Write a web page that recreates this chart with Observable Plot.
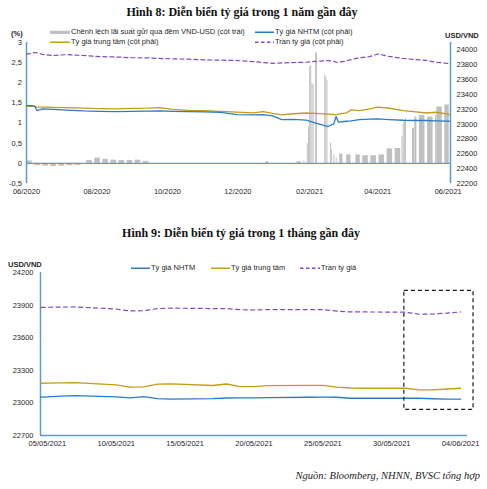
<!DOCTYPE html>
<html><head><meta charset="utf-8">
<script src="https://cdn.jsdelivr.net/npm/d3@7"></script>
<script src="https://cdn.jsdelivr.net/npm/@observablehq/plot@0.6"></script>
<style>
body{margin:0;background:#fff;}
#root{position:relative;width:487px;height:489px;overflow:hidden;font-family:"Liberation Sans",Arial,sans-serif;color:#262626;background:#fff;}
.abs{position:absolute;white-space:nowrap;}
.title{font-family:"Liberation Serif","Times New Roman",serif;font-weight:bold;font-size:12px;color:#111;transform:translate(-50%,-50%);}
.lg{font-size:7.5px;line-height:1;transform:translateY(-50%);display:flex;align-items:center;}
.lg svg{display:block;margin-right:1px;}
.unit{font-size:7.5px;font-weight:bold;transform:translateY(-50%);}
.src{font-family:"Liberation Serif","Times New Roman",serif;font-style:italic;font-size:10.5px;color:#222;transform:translate(-100%,-50%);}
</style></head>
<body><div id="root"></div>
<script>
// ---------- Chart 8 data (1 year) ----------
const lineDates1 = ["2020-06-01","2020-06-05","2020-06-08","2020-06-10","2020-06-15","2020-06-24","2020-07-06","2020-07-20","2020-08-03","2020-08-17","2020-08-31","2020-09-14","2020-09-24","2020-10-05","2020-10-19","2020-11-02","2020-11-16","2020-11-30","2020-12-14","2020-12-23","2020-12-31","2021-01-08","2021-01-18","2021-01-29","2021-02-05","2021-02-17","2021-02-22","2021-02-24","2021-02-26","2021-03-05","2021-03-09","2021-03-16","2021-03-25","2021-04-01","2021-04-11","2021-04-23","2021-05-04","2021-05-13","2021-05-21","2021-05-31","2021-06-02"];
const nhtm1 = [23250,23250,23245,23183,23205,23200,23190,23178,23172,23168,23172,23175,23178,23172,23168,23165,23158,23128,23125,23128,23110,23062,23065,23055,23020,22968,23004,23102,23026,23039,23045,23062,23068,23071,23062,23052,23049,23049,23045,23040,23039];
const central1 = [23240,23238,23235,23228,23230,23225,23222,23215,23210,23205,23212,23215,23222,23200,23185,23180,23172,23162,23152,23168,23145,23125,23140,23150,23145,23135,23130,23129,23135,23152,23193,23183,23206,23228,23214,23183,23165,23150,23160,23139,23125];
const ceiling1 = [23947,23950,23965,23960,23940,23924,23937,23925,23910,23905,23895,23893,23885,23880,23875,23866,23862,23857,23843,23830,23820,23825,23830,23834,23845,23857,23845,23834,23834,23850,23870,23893,23910,23945,23912,23885,23870,23860,23834,23820,23815];

// overnight interest-rate spread VND-USD (%): start date, length in days, value
const barStart = ["2020-06-01","2020-06-08","2020-06-15","2020-06-22","2020-06-29","2020-07-06","2020-07-13","2020-07-23","2020-07-30","2020-08-06","2020-08-13","2020-08-20","2020-08-27","2020-09-03","2020-09-10","2020-12-25","2021-01-21","2021-01-27","2021-01-30","2021-01-31","2021-02-01","2021-02-02","2021-02-03","2021-02-04","2021-02-06","2021-02-07","2021-02-14","2021-02-15","2021-02-16","2021-02-19","2021-02-20","2021-02-22","2021-02-24","2021-02-27","2021-03-05","2021-03-13","2021-03-19","2021-03-26","2021-04-02","2021-04-09","2021-04-16","2021-04-22","2021-04-23","2021-04-24","2021-04-25","2021-05-01","2021-05-03","2021-05-07","2021-05-14","2021-05-21","2021-05-22","2021-05-29"];
const barDays = [5,5,5,5,5,5,5,5,5,5,5,5,5,5,5,3,4,1,1,1,1,1,1,1,1,1,1,1,1,1,1,1,1,3,4,4,5,5,5,5,5,1,1,1,1,2,2,5,5,1,5,4];
const barValue = [0.06,-0.06,-0.07,-0.08,-0.07,-0.06,-0.05,0.07,0.13,0.10,0.08,0.07,0.07,0.08,0.05,0.04,0.04,0.06,0.50,0.91,2.39,2.43,1.98,1.95,2.76,2.72,2.19,2.15,2.06,0.50,0.33,0.21,0.13,0.23,0.21,0.21,0.19,0.19,0.21,0.36,0.37,0.66,1.00,1.06,1.11,0.87,1.15,1.19,1.15,1.19,1.40,1.45];

const xTicks1 = ["2020-06-01","2020-08-01","2020-10-01","2020-12-01","2021-02-01","2021-04-01","2021-06-01"];
const xDomain1 = ["2020-06-01","2021-06-03"];
const leftTicks = [-0.5,0,0.5,1,1.5,2,2.5,3];
const leftDomain = [-0.5,3];
const rightTicks = [22200,22400,22600,22800,23000,23200,23400,23600,23800,24000];
const rightDomain = [22200,24100];

// ---------- Chart 9 data (1 month) ----------
const dates2 = ["2021-05-04","2021-05-05","2021-05-06","2021-05-07","2021-05-10","2021-05-11","2021-05-12","2021-05-13","2021-05-14","2021-05-17","2021-05-18","2021-05-19","2021-05-20","2021-05-21","2021-05-24","2021-05-25","2021-05-26","2021-05-27","2021-05-28","2021-05-31","2021-06-01","2021-06-02","2021-06-03","2021-06-04"];
const nhtm2 = [23050,23055,23062,23067,23055,23046,23058,23040,23034,23040,23045,23046,23046,23048,23052,23053,23052,23043,23043,23043,23043,23038,23034,23034];
const central2 = [23180,23182,23185,23186,23166,23145,23148,23172,23175,23160,23174,23150,23150,23159,23162,23162,23145,23137,23135,23135,23120,23120,23128,23135];
const ceiling2 = [23878,23880,23882,23883,23864,23846,23848,23868,23872,23868,23868,23858,23855,23859,23859,23859,23845,23837,23837,23835,23816,23818,23826,23837];
const xTicks2 = ["2021-05-05","2021-05-10","2021-05-15","2021-05-20","2021-05-25","2021-05-30","2021-06-04"];
const xDomain2 = ["2021-05-04T12:00:00Z","2021-06-04T12:00:00Z"];
const yTicks2 = [22700,23000,23300,23600,23900,24200];
const yDomain2 = [22700,24200];
const boxX = ["2021-05-30T22:00:00Z","2021-06-04T22:30:00Z"];
const boxY = [22935,24030];

// ---------- colours ----------
const C_NHTM = "#2a7cc7", C_CENTRAL = "#c39b1e", C_CEIL = "#8549bd", C_BAR = "#c0c0c0", C_AXIS = "#5b9bd5";

const root = document.getElementById("root");
const D = s => new Date(s.length > 10 ? s : s + "T00:00:00Z");
const toLeft = v => leftDomain[0] + (v - rightDomain[0]) / (rightDomain[1] - rightDomain[0]) * (leftDomain[1] - leftDomain[0]);
const toRight = u => rightDomain[0] + (u - leftDomain[0]) / (leftDomain[1] - leftDomain[0]) * (rightDomain[1] - rightDomain[0]);

function addText(cls, x, y, text) {
  const el = document.createElement("div");
  el.className = "abs " + cls;
  el.style.left = x + "px"; el.style.top = y + "px";
  el.textContent = text;
  root.appendChild(el);
  return el;
}
function addLegend(x, y, kind, color, text, w) {
  const el = document.createElement("div");
  el.className = "abs lg";
  el.style.left = x + "px"; el.style.top = y + "px";
  let sw;
  if (kind === "bar") sw = `<svg width="${w}" height="6"><rect x="0" y="1.5" width="${w}" height="3.2" fill="${color}"/></svg>`;
  else if (kind === "dash") sw = `<svg width="${w}" height="6"><line x1="0" y1="3" x2="${w}" y2="3" stroke="${color}" stroke-width="1.3" stroke-dasharray="3.5,2.5"/></svg>`;
  else sw = `<svg width="${w}" height="6"><line x1="0" y1="3" x2="${w}" y2="3" stroke="${color}" stroke-width="1.4"/></svg>`;
  el.innerHTML = sw + `<span></span>`;
  el.querySelector("span").textContent = text;
  root.appendChild(el);
}

const style = {fontFamily: "'Liberation Sans', Arial, sans-serif", fontSize: "7.5px", color: "#262626", background: "transparent", overflow: "visible"};

// ---------- Chart 8 ----------
const lines1 = lineDates1.map((s, i) => ({date: D(s), nhtm: toLeft(nhtm1[i]), central: toLeft(central1[i]), ceiling: toLeft(ceiling1[i])}));
const bars1 = barStart.map((s, i) => ({x1: D(s), x2: d3.utcDay.offset(D(s), barDays[i]), y1: 0, y2: barValue[i]}));
const xd1 = xDomain1.map(D);

const chart1 = Plot.plot({
  width: 487, height: 205,
  marginLeft: 26, marginRight: 37, marginTop: 42, marginBottom: 22,
  style,
  x: {type: "utc", domain: xd1},
  y: {domain: leftDomain},
  marks: [
    Plot.rect(bars1, {x1: "x1", x2: "x2", y1: "y1", y2: "y2", fill: C_BAR, insetLeft: 0.1, insetRight: 0.1}),
    Plot.ruleY([0], {stroke: C_AXIS, strokeWidth: 1.2}),
    Plot.ruleX(xd1, {stroke: C_AXIS, strokeWidth: 1.5}),
    Plot.line(lines1, {x: "date", y: "central", stroke: C_CENTRAL, strokeWidth: 1.3}),
    Plot.line(lines1, {x: "date", y: "nhtm", stroke: C_NHTM, strokeWidth: 1.3}),
    Plot.line(lines1, {x: "date", y: "ceiling", stroke: C_CEIL, strokeWidth: 1.2, strokeDasharray: "4,3"}),
    Plot.axisX(xTicks1.map(D), {anchor: "bottom", tickSize: 0, tickPadding: 5, tickFormat: d3.utcFormat("%m/%Y"), label: null}),
    Plot.axisY(leftTicks, {anchor: "left", tickSize: 0, tickPadding: 4.5, tickFormat: v => String(v).replace(".", ","), label: null}),
    Plot.axisY(rightTicks.map(toLeft), {anchor: "right", tickSize: 0, tickPadding: 6, tickFormat: u => String(Math.round(toRight(u))), label: null})
  ]
});
chart1.style.position = "absolute"; chart1.style.left = "0px"; chart1.style.top = "0px";
root.appendChild(chart1);

// ---------- Chart 9 ----------
const lines2 = dates2.map((s, i) => ({date: D(s), nhtm: nhtm2[i], central: central2[i], ceiling: ceiling2[i]}));
const xd2 = xDomain2.map(D);
const box = [{x1: D(boxX[0]), x2: D(boxX[1]), y1: boxY[0], y2: boxY[1]}];

const chart2 = Plot.plot({
  width: 487, height: 210,
  marginLeft: 40, marginRight: 20, marginTop: 22, marginBottom: 25,
  style,
  x: {type: "utc", domain: xd2},
  y: {domain: yDomain2},
  marks: [
    Plot.ruleX([xd2[0]], {stroke: C_AXIS, strokeWidth: 1.5}),
    Plot.ruleY([yDomain2[0]], {stroke: C_AXIS, strokeWidth: 1.5}),
    Plot.line(lines2, {x: "date", y: "central", stroke: C_CENTRAL, strokeWidth: 1.3, clip: true}),
    Plot.line(lines2, {x: "date", y: "nhtm", stroke: C_NHTM, strokeWidth: 1.3, clip: true}),
    Plot.line(lines2, {x: "date", y: "ceiling", stroke: C_CEIL, strokeWidth: 1.2, strokeDasharray: "4,3.5", clip: true}),
    Plot.rect(box, {x1: "x1", x2: "x2", y1: "y1", y2: "y2", fill: "none", stroke: "#1a1a1a", strokeWidth: 1.2, strokeDasharray: "4,3"}),
    Plot.axisX(xTicks2.map(D), {anchor: "bottom", tickSize: 0, tickPadding: 5, tickFormat: d3.utcFormat("%d/%m/%Y"), label: null}),
    Plot.axisY(yTicks2, {anchor: "left", tickSize: 0, tickPadding: 7, tickFormat: v => String(v), label: null})
  ]
});
chart2.style.position = "absolute"; chart2.style.left = "0px"; chart2.style.top = "250px";
root.appendChild(chart2);

// ---------- Texts & legends ----------
addText("title", 242, 12, "Hình 8: Diễn biến tỷ giá trong 1 năm gần đây");
addText("unit", 11, 33, "(%)");
addText("unit", 445, 35, "USD/VND");
addLegend(50, 32, "bar", C_BAR, "Chênh lệch lãi suất gửi qua đêm VND-USD (cột trái)", 20);
addLegend(255, 32, "line", C_NHTM, "Tỷ giá NHTM (cột phải)", 19);
addLegend(50, 42, "line", C_CENTRAL, "Tỷ giá trung tâm (cột phải)", 20);
addLegend(255, 42, "dash", C_CEIL, "Trần tỷ giá (cột phải)", 19);

addText("title", 241, 233, "Hình 9: Diễn biến tỷ giá trong 1 tháng gần đây");
addText("unit", 8, 264, "USD/VND");
addLegend(131, 268, "line", C_NHTM, "Tỷ giá NHTM", 19);
addLegend(211, 268, "line", C_CENTRAL, "Tỷ giá trung tâm", 19);
addLegend(300, 268, "dash", C_CEIL, "Trần tỷ giá", 20);

addText("src", 480, 475, "Nguồn: Bloomberg, NHNN, BVSC tổng hợp");
</script></body></html>
